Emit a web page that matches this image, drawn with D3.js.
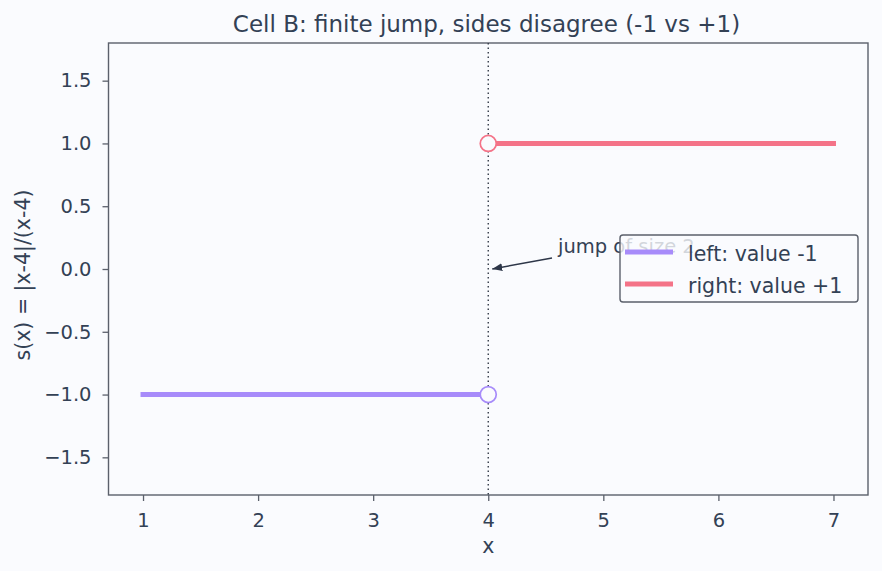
<!DOCTYPE html>
<html><head><meta charset="utf-8">
<script src="https://cdn.jsdelivr.net/npm/d3@7"></script>
<style>body{margin:0;background:#fafbfe;} svg{display:block;font-family:"DejaVu Sans",sans-serif;}</style>
</head><body><svg id="c" width="882" height="571"></svg>
<script>
const leftX = [1, 4], leftY = [-1, -1];
const rightX = [4, 7], rightY = [1, 1];
const xTicks = [1, 2, 3, 4, 5, 6, 7];
const yTicks = [-1.5, -1.0, -0.5, 0.0, 0.5, 1.0, 1.5];
const jumpX = 4;
const legendLabels = ["left: value -1", "right: value +1"];
const colors = ["#a78bfa", "#f47388"];
const ink = "#334155", spine = "#5b606b";

const svg = d3.select("#c");
const m = {l:108.5, r:868, t:43, b:495};
const x = d3.scaleLinear().domain([0.7, 7.3]).range([m.l, m.r]);
const y = d3.scaleLinear().domain([-1.8, 1.8]).range([m.b, m.t]);

svg.append("rect").attr("width",882).attr("height",571).attr("fill","#fafbfe");

// axes
const xa = svg.append("g").attr("transform",`translate(0,${m.b})`)
  .call(d3.axisBottom(x).tickValues(xTicks).tickFormat(d3.format("d")).tickSize(6).tickPadding(12));
const ya = svg.append("g").attr("transform",`translate(${m.l},0)`)
  .call(d3.axisLeft(y).tickValues(yTicks).tickFormat(d=>d3.format(".1f")(d).replace("-","\u2212")).tickSize(6).tickPadding(11));
[xa,ya].forEach(g=>{g.select(".domain").remove();
  g.selectAll("line").attr("stroke",spine).attr("stroke-width",1.3);
  g.selectAll("text").attr("fill",ink).style("font-size","19.5px").style("font-family","DejaVu Sans");});

svg.append("rect").attr("x",m.l).attr("y",m.t).attr("width",m.r-m.l).attr("height",m.b-m.t)
  .attr("fill","none").attr("stroke",spine).attr("stroke-width",1.4);

// dotted vertical line
svg.append("line").attr("x1",x(jumpX)).attr("x2",x(jumpX)).attr("y1",m.t).attr("y2",m.b)
  .attr("stroke","#333a48").attr("stroke-width",1.4).attr("stroke-dasharray","1.5,3");

const line = d3.line().x(d=>x(d[0])).y(d=>y(d[1]));
svg.append("path").datum(d3.zip(leftX,leftY)).attr("d",line).attr("stroke",colors[0]).attr("stroke-width",5).attr("stroke-linecap","square").attr("fill","none");
svg.append("path").datum(d3.zip(rightX,rightY)).attr("d",line).attr("stroke",colors[1]).attr("stroke-width",5).attr("stroke-linecap","square").attr("fill","none");

// open circles
svg.append("circle").attr("cx",x(leftX[1])).attr("cy",y(leftY[1])).attr("r",8).attr("fill","#fafbfe").attr("stroke",colors[0]).attr("stroke-width",1.7);
svg.append("circle").attr("cx",x(rightX[0])).attr("cy",y(rightY[0])).attr("r",8).attr("fill","#fafbfe").attr("stroke",colors[1]).attr("stroke-width",1.7);

// annotation
svg.append("defs").append("marker").attr("id","ah").attr("viewBox","0 0 10 10").attr("refX",10).attr("refY",5)
  .attr("markerWidth",10).attr("markerHeight",10).attr("markerUnits","userSpaceOnUse").attr("orient","auto")
  .append("path").attr("d","M0,1 L10,5 L0,9 Z").attr("fill","#2d3648");
svg.append("line").attr("x1",552).attr("y1",258).attr("x2",x(jumpX)+4).attr("y2",y(0))
  .attr("stroke","#2d3648").attr("stroke-width",1.5).attr("marker-end","url(#ah)");
svg.append("text").attr("x",558).attr("y",253).attr("fill",ink).style("font-size","19.5px").text("jump of size 2");

// legend
const lg = svg.append("g");
lg.append("rect").attr("x",620).attr("y",235).attr("width",238).attr("height",67).attr("rx",3)
  .attr("fill","#fafbfe").attr("fill-opacity",0.8).attr("stroke",spine).attr("stroke-width",1.4);
legendLabels.forEach((t,i)=>{
  const yy = 252 + i*32;
  lg.append("line").attr("x1",625).attr("x2",673).attr("y1",yy).attr("y2",yy).attr("stroke",colors[i]).attr("stroke-width",5);
  lg.append("text").attr("x",688).attr("y",yy+8.5).attr("fill",ink).style("font-size","20.5px").text(t);
});

// labels
svg.append("text").attr("x",486.5).attr("y",32).attr("text-anchor","middle").attr("fill",ink).style("font-size","23px")
  .text("Cell B: finite jump, sides disagree (-1 vs +1)");
svg.append("text").attr("x",x(4)).attr("y",553).attr("text-anchor","middle").attr("fill",ink).style("font-size","20.5px").text("x");
svg.append("text").attr("transform",`translate(30,${275}) rotate(-90)`).attr("text-anchor","middle").attr("fill",ink).style("font-size","20.5px")
  .text("s(x) = |x-4|/(x-4)");
</script></body></html>
